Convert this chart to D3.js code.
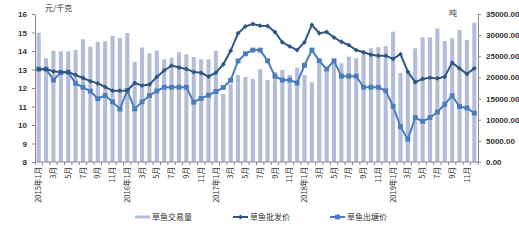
<!DOCTYPE html>
<html>
<head>
<meta charset="utf-8">
<script src="https://cdn.jsdelivr.net/npm/d3@7"></script>
<style>
  html, body { margin: 0; padding: 0; background: #fff; }
  svg { display: block; }
  text { font-family: "Liberation Sans", Arial, sans-serif; fill: #333; }
  .cjk { font-family: "Noto Sans CJK SC", sans-serif; }
</style>
</head>
<body>
<script>
let W = 519;
let H = 240;

// data, 2015-01 .. 2019-12
let years = [2015, 2016, 2017, 2018, 2019];
let monthNames = ["1月","2月","3月","4月","5月","6月","7月","8月","9月","10月","11月","12月"];

let volume = [
  30580, 24520, 26320, 26180, 26180, 26490, 29020, 27270, 28380, 28540, 29870, 29320,
  30510, 23720, 27080, 25710, 26370, 24290, 24710, 25940, 25470, 24830, 24290, 24290,
  26320, 16080, 18450, 20580, 20100, 19630, 21920, 19390, 21290, 21760, 20580, 22300,
  20580, 18850, 23340, 21360, 24120, 23340, 24900, 24520, 25710, 26890, 27130, 27430,
  30820, 21050, 21500, 26890, 29490, 29490, 31570, 28620, 29260, 31220, 28850, 32940
];
let wholesale = [
  13.02, 13.03, 12.90, 12.85, 12.86, 12.70, 12.54, 12.37, 12.25, 12.06, 11.85, 11.85,
  11.87, 12.27, 12.13, 12.19, 12.60, 12.95, 13.21, 13.11, 13.03, 12.86, 12.82, 12.62,
  12.83, 13.28, 14.01, 14.96, 15.33, 15.46, 15.37, 15.35, 15.03, 14.47, 14.25, 14.05,
  14.47, 15.41, 14.96, 15.03, 14.73, 14.50, 14.32, 14.05, 13.93, 13.80, 13.75, 13.75,
  13.57, 13.83, 12.88, 12.31, 12.49, 12.56, 12.52, 12.61, 13.37, 13.06, 12.76, 13.06
];
let farmgate = [
  13.02, 13.02, 12.43, 12.84, 12.86, 12.25, 12.04, 11.83, 11.42, 11.60, 11.25, 10.86,
  11.87, 10.87, 11.25, 11.59, 11.84, 12.04, 12.04, 12.04, 12.04, 11.23, 11.44, 11.61,
  11.81, 12.03, 12.42, 13.46, 13.85, 14.05, 14.05, 13.47, 12.64, 12.43, 12.43, 12.27,
  13.23, 14.05, 13.47, 13.02, 13.47, 12.64, 12.64, 12.64, 12.04, 12.04, 12.04, 11.85,
  11.01, 9.91, 9.23, 10.40, 10.20, 10.40, 10.70, 11.12, 11.58, 11.00, 10.92, 10.64
];
let leftTicks = [8, 9, 10, 11, 12, 13, 14, 15, 16];
let rightTicks = [0, 5000, 10000, 15000, 20000, 25000, 30000, 35000];
let seriesNames = ["草鱼交易量", "草鱼批发价", "草鱼出塘价"];

let months = [];
years.forEach(y => monthNames.forEach((m, i) => {
  months.push({ key: y + "-" + (i + 1), label: (i === 0 ? y + "年" : "") + m, show: i % 2 === 0 });
}));

let pad = { top: 14, rig: 41, bot: 78, lef: 35 };

let svg = d3.select("body").append("svg")
  .attr("width", W)
  .attr("height", H)
  .attr("viewBox", "0 0 " + W + " " + H);

let xScale = d3.scaleBand()
  .domain(months.map(d => d.key))
  .range([pad.lef, W - pad.rig])
  .paddingInner(0.45)
  .paddingOuter(0.225);

let yLeft = d3.scaleLinear().domain([8, 16]).range([H - pad.bot, pad.top]);
let yRight = d3.scaleLinear().domain([0, 35000]).range([H - pad.bot, pad.top]);

let cx = (i) => xScale(months[i].key) + xScale.bandwidth() / 2;

// bars
svg.append("g")
  .selectAll("rect")
  .data(volume)
  .enter()
  .append("rect")
  .attr("x", (d, i) => xScale(months[i].key))
  .attr("y", d => yRight(d))
  .attr("width", xScale.bandwidth())
  .attr("height", d => yRight(0) - yRight(d))
  .attr("fill", "#b3bddb");

// axes
let axisColor = "#888";
let gl = svg.append("g")
  .attr("transform", "translate(" + pad.lef + ",0)")
  .call(d3.axisLeft(yLeft).tickValues(leftTicks).tickSize(3).tickSizeOuter(0).tickPadding(5));
let gr = svg.append("g")
  .attr("transform", "translate(" + (W - pad.rig) + ",0)")
  .call(d3.axisRight(yRight).tickValues(rightTicks).tickFormat(d3.format(".2f")).tickSize(3).tickSizeOuter(0).tickPadding(5));

let gx = svg.append("g").attr("transform", "translate(0," + (H - pad.bot) + ")");
gx.append("line")
  .attr("x1", pad.lef).attr("x2", W - pad.rig)
  .attr("stroke", axisColor);
let step = xScale.step();
gx.selectAll(".tk")
  .data(d3.range(months.length + 1))
  .enter()
  .append("line")
  .attr("x1", i => pad.lef + i * (W - pad.lef - pad.rig) / months.length)
  .attr("x2", i => pad.lef + i * (W - pad.lef - pad.rig) / months.length)
  .attr("y1", 0).attr("y2", 3)
  .attr("stroke", axisColor);
gx.selectAll(".lbl")
  .data(months.filter(d => d.show))
  .enter()
  .append("text")
  .attr("class", "cjk")
  .attr("transform", d => "translate(" + (xScale(d.key) + xScale.bandwidth() / 2) + ",5) rotate(-90)")
  .attr("text-anchor", "end")
  .attr("dy", "0.35em")
  .attr("font-size", 7.5)
  .text(d => d.label);

[gl, gr].forEach(g => {
  g.selectAll("path").attr("stroke", axisColor);
  g.selectAll("line").attr("stroke", axisColor);
  g.selectAll("text").attr("font-size", 8).attr("fill", "#333");
});
gl.selectAll("text").attr("font-weight", "bold");
gr.selectAll("text").attr("font-weight", "bold");

// lines
let lineGen = d3.line().x((d, i) => cx(i)).y(d => yLeft(d));
let wsColor = "#2f5583";
let fgColor = "#4a7dbd";

svg.append("path").datum(farmgate)
  .attr("d", lineGen).attr("fill", "none").attr("stroke", fgColor).attr("stroke-width", 2);
svg.append("g").selectAll("path").data(farmgate).enter().append("path")
  .attr("d", d3.symbol(d3.symbolSquare, 24))
  .attr("transform", (d, i) => "translate(" + cx(i) + "," + yLeft(d) + ")")
  .attr("fill", fgColor);

svg.append("path").datum(wholesale)
  .attr("d", lineGen).attr("fill", "none").attr("stroke", wsColor).attr("stroke-width", 2);
svg.append("g").selectAll("path").data(wholesale).enter().append("path")
  .attr("d", d3.symbol(d3.symbolSquare, 12))
  .attr("transform", (d, i) => "translate(" + cx(i) + "," + yLeft(d) + ") rotate(45)")
  .attr("fill", wsColor);

// axis titles
svg.append("text").attr("class", "cjk")
  .attr("x", 45).attr("y", 11).attr("font-size", 8).text("元/千克");
svg.append("text").attr("class", "cjk")
  .attr("x", 449).attr("y", 16).attr("font-size", 8).text("吨");

// legend
let lg = svg.append("g").attr("transform", "translate(0,217)");
lg.append("rect").attr("x", 135).attr("y", -1.5).attr("width", 15).attr("height", 3).attr("fill", "#b3bddb");
lg.append("text").attr("class", "cjk").attr("x", 152).attr("dy", "0.35em").attr("font-size", 8).text(seriesNames[0]);

lg.append("line").attr("x1", 233).attr("x2", 248).attr("stroke", wsColor).attr("stroke-width", 2);
lg.append("path").attr("d", d3.symbol(d3.symbolSquare, 12)).attr("transform", "translate(240.5,0) rotate(45)").attr("fill", wsColor);
lg.append("text").attr("class", "cjk").attr("x", 250).attr("dy", "0.35em").attr("font-size", 8).text(seriesNames[1]);

lg.append("line").attr("x1", 330).attr("x2", 345).attr("stroke", fgColor).attr("stroke-width", 2);
lg.append("path").attr("d", d3.symbol(d3.symbolSquare, 24)).attr("transform", "translate(337.5,0)").attr("fill", fgColor);
lg.append("text").attr("class", "cjk").attr("x", 347).attr("dy", "0.35em").attr("font-size", 8).text(seriesNames[2]);
</script>
</body>
</html>
